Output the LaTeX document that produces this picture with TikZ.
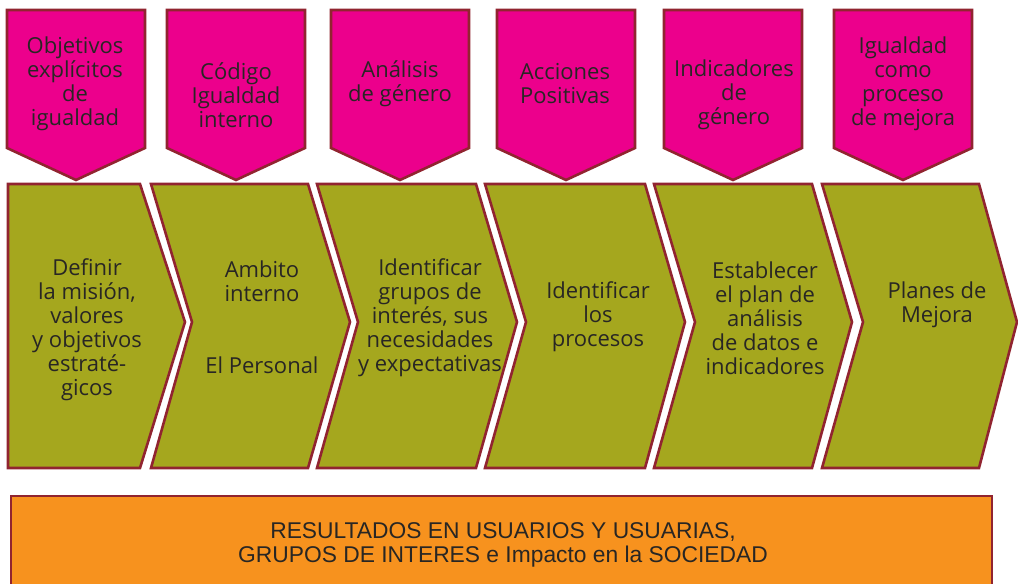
\documentclass[tikz,border=0pt]{standalone}
\usepackage{fontspec}
\setmainfont{Open Sans}
\newfontfamily\resfont{Liberation Sans}
\usetikzlibrary{positioning}
\definecolor{rosa}{RGB}{236,0,140}
\definecolor{oliva}{RGB}{165,167,30}
\definecolor{naranja}{RGB}{247,146,30}
\definecolor{borde}{RGB}{145,36,48}
\definecolor{texto}{RGB}{40,38,36}
\tikzset{
  pent/.style={fill=rosa, draw=borde, line width=1.3pt, line join=miter},
  chev/.style={fill=oliva, draw=borde, line width=1.3pt, line join=miter},
  lbl/.style={align=center, text=texto, inner sep=0pt, font=\fontsize{11}{12}\selectfont},
}

\begin{document}
\begin{tikzpicture}[x=0.5pt, y=-0.5pt]

\useasboundingbox (0,0) rectangle (1018,584);

% Process chevrons
\draw[chev] (8,184) -- (140,184) -- (185,322) -- (140,468) -- (8,468) -- cycle;
\draw[chev] (151,184) -- (308,184) -- (350,322) -- (308,468) -- (151,468) -- (192,322) -- cycle;
\draw[chev] (317,184) -- (476,184) -- (517,322) -- (476,468) -- (317,468) -- (358,322) -- cycle;
\draw[chev] (485,184) -- (645,184) -- (685,322) -- (645,468) -- (485,468) -- (526,322) -- cycle;
\draw[chev] (654,184) -- (812,184) -- (852,322) -- (812,468) -- (654,468) -- (695,322) -- cycle;
\draw[chev] (822,184) -- (979,184) -- (1017,322) -- (979,468) -- (822,468) -- (863,322) -- cycle;

% Tags on top
\draw[pent] (7,10) -- (145,10) -- (145,148) -- (76,180) -- (7,148) -- cycle;
\draw[pent] (167,10) -- (305,10) -- (305,148) -- (236,180) -- (167,148) -- cycle;
\draw[pent] (331,10) -- (469,10) -- (469,148) -- (400,180) -- (331,148) -- cycle;
\draw[pent] (497,10) -- (635,10) -- (635,148) -- (566,180) -- (497,148) -- cycle;
\draw[pent] (664,10) -- (802,10) -- (802,148) -- (733,180) -- (664,148) -- cycle;
\draw[pent] (834,10) -- (972,10) -- (972,148) -- (903,180) -- (834,148) -- cycle;

% Results
\draw[fill=naranja, draw=borde, line width=1.3pt] (11,496) rectangle (992,600);

% Tag labels
\node[lbl] (obj) at (75,84) {Objetivos\\explícitos\\de\\igualdad};
\node[lbl] (cod) at (236,95) {Código\\Igualdad\\interno};
\node[lbl] (ana) at (400,84) {Análisis\\de género};
\node[lbl] (acc) at (565,84) {Acciones\\Positivas};
\node[lbl] (ind) at (734,95) {Indicadores\\de\\género};
\node[lbl] (mej) at (903,84) {Igualdad\\como\\proceso\\de mejora};

% Chevron labels
\node[lbl] (mis) at (87,330) {Definir\\la misión,\\valores\\y objetivos\\estraté-\\gicos};
\node[lbl] (amb) at (262,317) {Ambito\\interno\\[24pt]El Personal};
\node[lbl] (gru) at (430,318) {Identificar\\grupos de\\interés, sus\\necesidades\\y expectativas};
\node[lbl] (pro) at (598,317) {Identificar\\los\\procesos};
\node[lbl] (dat) at (765,318) {Establecer\\el plan de\\análisis\\de datos e\\indicadores};
\node[lbl] (pla) at (937,305) {Planes de\\Mejora};

% Results label
\node[lbl, font=\resfont\fontsize{11.4}{12}\selectfont] (res) at (503,545)
  {RESULTADOS EN USUARIOS Y USUARIAS,\\GRUPOS DE INTERES e Impacto en la SOCIEDAD};

\end{tikzpicture}
\end{document}
